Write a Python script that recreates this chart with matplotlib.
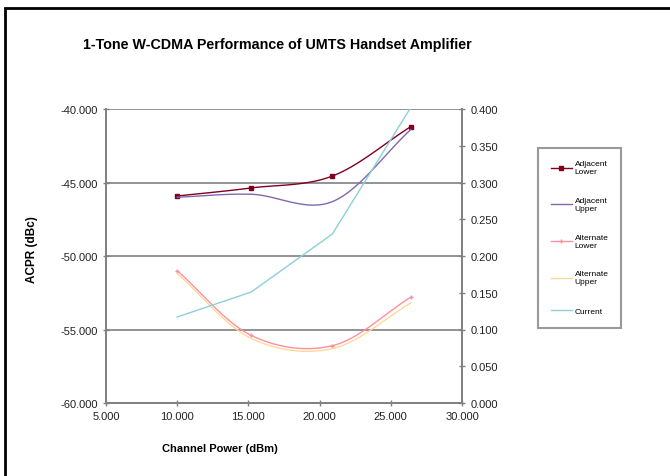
import numpy as np
import matplotlib
matplotlib.use("Agg")
import matplotlib.pyplot as plt
from matplotlib.patches import Rectangle

plt.rcParams['font.family'] = ['Liberation Sans', 'DejaVu Sans']

# ---- data ----
channel_power = [10.0, 15.2, 20.9, 26.4]
adjacent_lower = [-45.92, -45.37, -44.56, -41.2]
adjacent_upper = [-46.0, -45.8, -46.3, -41.4]
alternate_lower = [-51.0, -55.4, -56.1, -52.8]
alternate_upper = [-51.2, -55.6, -56.3, -53.2]
current = [0.117, 0.151, 0.230, 0.402]

title = "1-Tone W-CDMA Performance of UMTS Handset Amplifier"
x_ticks = [5, 10, 15, 20, 25, 30]
y_ticks = [-60, -55, -50, -45, -40]
y2_ticks = [0.0, 0.05, 0.1, 0.15, 0.2, 0.25, 0.3, 0.35, 0.4]


def smooth(x, y, n=30):
    """Catmull-Rom style curve drawn through the data points (like Excel smoothed lines)."""
    x = np.asarray(x, float); y = np.asarray(y, float)
    P = np.column_stack([x, y])
    P = np.vstack([P[0] - (P[1] - P[0]), P, P[-1] + (P[-1] - P[-2])])
    out = []
    for i in range(1, len(P) - 2):
        p0, p1, p2, p3 = P[i - 1], P[i], P[i + 1], P[i + 2]
        t = np.linspace(0, 1, n)[:, None]
        c = 0.5 * ((2 * p1) + (-p0 + p2) * t + (2 * p0 - 5 * p1 + 4 * p2 - p3) * t ** 2
                   + (-p0 + 3 * p1 - 3 * p2 + p3) * t ** 3)
        out.append(c)
    c = np.vstack(out)
    return c[:, 0], c[:, 1]


fig = plt.figure(figsize=(6.7, 4.77), dpi=100)
ax = fig.add_axes([106 / 670, 1 - 404 / 477, 356 / 670, 294 / 477])
ax2 = ax.twinx()

grid_c = '#808080'
ax.set_xlim(5, 30)
ax.set_ylim(-60, -40)
ax2.set_ylim(0, 0.4)
ax.set_xticks(x_ticks)
ax.set_yticks(y_ticks)
ax2.set_yticks(y2_ticks)
ax.set_xticklabels([f"{v:.3f}" for v in x_ticks])
ax.set_yticklabels([f"{v:.3f}" for v in y_ticks])
ax2.set_yticklabels([f"{v:.3f}" for v in y2_ticks])

for a in (ax, ax2):
    for s in a.spines.values():
        s.set_color(grid_c)
        s.set_linewidth(1.2)
    a.spines['top'].set_visible(False)
    a.tick_params(colors=grid_c, labelcolor='#222222', labelsize=8, direction='inout', length=5, width=1)
ax.yaxis.grid(True, color=grid_c, linewidth=1.2)
ax.set_axisbelow(True)

series = [
    ("Adjacent\nLower", adjacent_lower, '#800020', 's', 2.5, ax),
    ("Adjacent\nUpper", adjacent_upper, '#8068b0', None, 0, ax),
    ("Alternate\nLower", alternate_lower, '#ff8fa0', '+', 3, ax),
    ("Alternate\nUpper", alternate_upper, '#ffd898', None, 0, ax),
    ("Current", current, '#8cd0d8', None, 0, ax2),
]
handles = []
for label, vals, col, mk, ms, a in series:
    if label == "Current":
        xs, ys = channel_power, vals
    else:
        xs, ys = smooth(channel_power, vals)
    a.plot(xs, ys, color=col, lw=1.0, clip_on=True)
    if mk:
        a.plot(channel_power, vals, linestyle='none', marker=mk, color=col, ms=ms, mew=1)
    h, = ax.plot([], [], color=col, lw=1.0, marker=mk, ms=ms)
    handles.append((h, label))

ax.set_xlabel("Channel Power (dBm)", fontsize=8, fontweight='bold')
ax.xaxis.set_label_coords((220 - 106) / 356, (404 - 444) / 294)
ax.set_ylabel("ACPR (dBc)", fontsize=8.5, fontweight='bold')
ax.yaxis.set_label_coords((38 - 106) / 356, (404 - 250) / 294)
fig.text(277 / 670, 1 - 45 / 477, title, fontsize=10.3, fontweight='bold', ha='center', va='center')

leg = fig.legend([h for h, _ in handles], [l for _, l in handles],
                 loc='upper left', bbox_to_anchor=(538 / 670, 1 - 149 / 477),
                 fontsize=6, frameon=True, fancybox=False, edgecolor=grid_c,
                 labelspacing=2.6, handlelength=2.6, handletextpad=0.3,
                 borderpad=1.5, borderaxespad=0)
leg.get_frame().set_linewidth(1.5)

fig.patches.append(Rectangle((5 / 670, -0.2), 1.2, 1 - 9 / 477 + 0.2, transform=fig.transFigure,
                             fill=False, edgecolor='black', lw=2, clip_on=False))

fig.savefig("out.png", dpi=100)
